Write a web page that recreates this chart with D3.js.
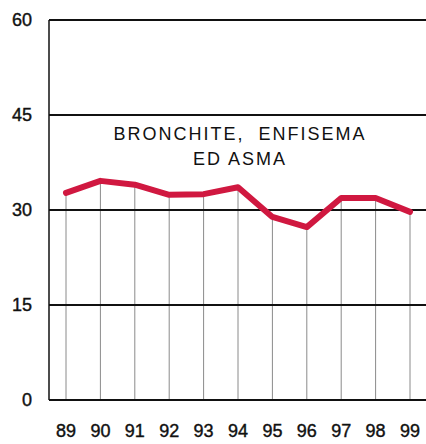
<!DOCTYPE html>
<html><head><meta charset="utf-8">
<script src="https://cdn.jsdelivr.net/npm/d3@7"></script>
<style>html,body{margin:0;padding:0;background:#fff;}svg{display:block;}</style>
</head><body>
<svg id="c" width="426" height="444"></svg>
<script>
const years = ["89","90","91","92","93","94","95","96","97","98","99"];
const values = [32.7, 34.6, 34.0, 32.4, 32.5, 33.6, 28.9, 27.3, 31.9, 31.9, 29.7];
const yTicks = [0, 15, 30, 45, 60];
const titleLines = ["BRONCHITE,  ENFISEMA", "ED ASMA"];

const svg = d3.select("#c");
const mLeft = 49, mRight = 426, mTop = 20, mBottom = 400;
const x = d3.scalePoint().domain(years).range([66, 410]);
const y = d3.scaleLinear().domain([0, 60]).range([mBottom, mTop]);
const font = "'Liberation Sans', Arial, sans-serif";

// drop lines
svg.append("g").selectAll("line").data(years).join("line")
  .attr("x1", d => x(d)).attr("x2", d => x(d))
  .attr("y1", (d, i) => y(values[i])).attr("y2", mBottom)
  .attr("stroke", "#8a8a8a").attr("stroke-width", 1);

// horizontal grid lines
svg.append("g").selectAll("line").data(yTicks).join("line")
  .attr("x1", mLeft).attr("x2", mRight)
  .attr("y1", d => y(d)).attr("y2", d => y(d))
  .attr("stroke", "#111").attr("stroke-width", 2);

// left axis line
svg.append("line").attr("x1", mLeft).attr("x2", mLeft).attr("y1", mTop).attr("y2", mBottom)
  .attr("stroke", "#111").attr("stroke-width", 1.5);

// y labels
svg.append("g").selectAll("text").data(yTicks).join("text")
  .attr("x", 32).attr("y", d => y(d)).attr("dy", "0.35em")
  .attr("text-anchor", "end").attr("font-family", font).attr("font-size", 18)
  .attr("fill", "#111").attr("stroke", "#111").attr("stroke-width", 0.4).text(d => d);

// x labels
svg.append("g").selectAll("text").data(years).join("text")
  .attr("x", d => x(d)).attr("y", 431).attr("dy", "0.35em")
  .attr("text-anchor", "middle").attr("font-family", font).attr("font-size", 18)
  .attr("fill", "#111").attr("stroke", "#111").attr("stroke-width", 0.4).text(d => d);

// title
svg.append("g").selectAll("text").data(titleLines).join("text")
  .attr("x", 240).attr("y", (d, i) => 140 + i * 25)
  .attr("text-anchor", "middle").attr("font-family", font).attr("font-size", 18)
  .attr("letter-spacing", "2px").style("white-space", "pre")
  .attr("fill", "#111").text(d => d);

// data line
const line = d3.line().x((d, i) => x(years[i])).y(d => y(d));
svg.append("path").datum(values).attr("d", line)
  .attr("fill", "none").attr("stroke", "#d01840").attr("stroke-width", 6)
  .attr("stroke-linejoin", "round").attr("stroke-linecap", "round");
</script>
</body></html>
